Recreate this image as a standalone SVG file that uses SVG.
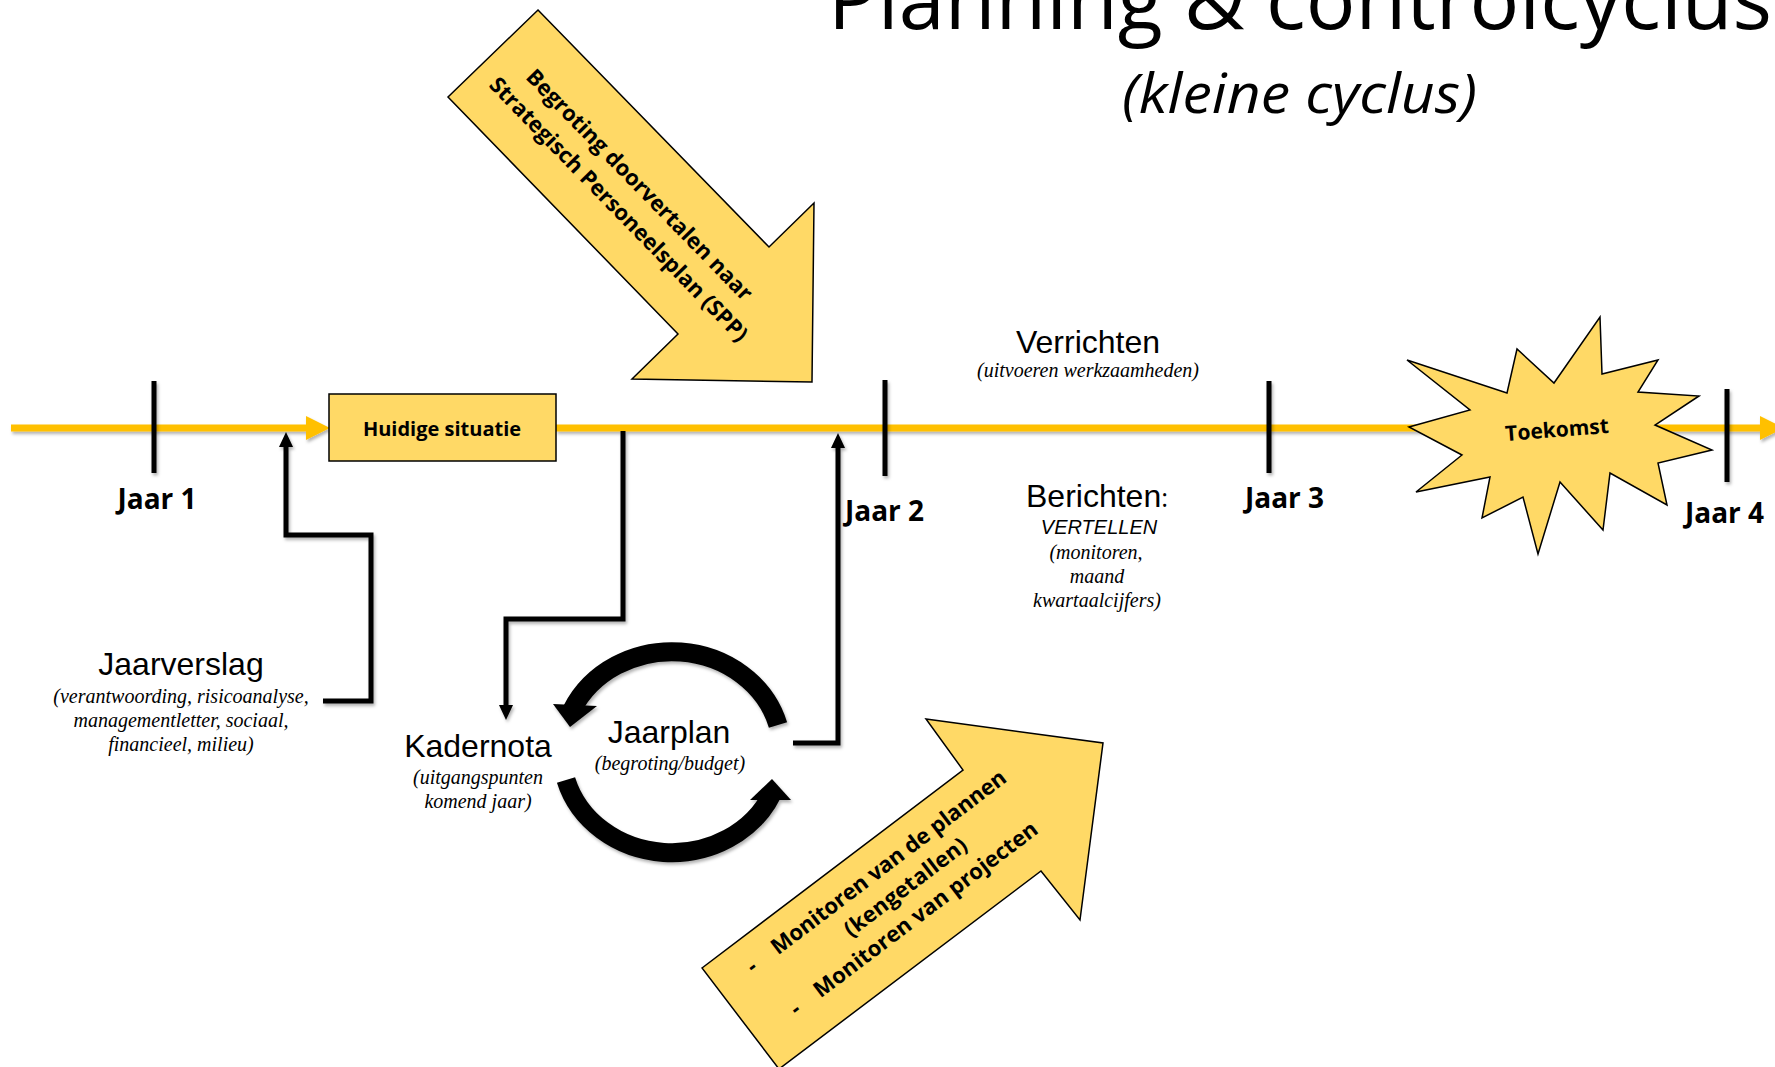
<svg xmlns="http://www.w3.org/2000/svg" width="1775" height="1067" viewBox="0 0 1775 1067">
<style>
.tl{fill:none;stroke:#FFC000;stroke-width:7}
.tick{stroke:#000;stroke-width:5;fill:none}
.con{fill:none;stroke:#000;stroke-width:5}
.cyc{fill:none;stroke:#000;stroke-width:19}
.shape{fill:#FFD966;stroke:#000;stroke-width:1.5;stroke-linejoin:miter}
.bold{font-family:"Open Sans","Liberation Sans",sans-serif;font-weight:bold;fill:#000}
.yr{font-family:"Open Sans","Liberation Sans",sans-serif;font-weight:bold;font-size:28px;fill:#000}
.big{font-family:"Liberation Sans",Arial,sans-serif;font-size:32px;fill:#000;text-anchor:middle}
.sub{font-family:"Liberation Serif","Times New Roman",serif;font-style:italic;font-size:20px;fill:#000;text-anchor:middle}
.ttl{font-family:"Open Sans","Liberation Sans",sans-serif;fill:#000}
</style>
<defs>
<marker id="ah" markerUnits="userSpaceOnUse" markerWidth="16" markerHeight="16" refX="0" refY="7" orient="auto" overflow="visible">
<path d="M0,0 L15,7 L0,14 Z" fill="#000"/>
</marker>
<marker id="yh" markerUnits="userSpaceOnUse" markerWidth="26" markerHeight="26" refX="0" refY="12" orient="auto" overflow="visible">
<path d="M0,0 L24,12 L0,24 Z" fill="#FFC000"/>
</marker>
<filter id="sh" filterUnits="userSpaceOnUse" x="0" y="0" width="1775" height="1067">
<feDropShadow dx="1.5" dy="2.5" stdDeviation="1.5" flood-color="#000" flood-opacity="0.3"/>
</filter>
</defs>

<g id="title">
<text class="ttl" x="828" y="29" font-size="83" textLength="944" lengthAdjust="spacingAndGlyphs">Planning &amp; controlcyclus</text>
<text class="ttl" x="1122" y="113" font-size="54" font-style="italic" textLength="355" lengthAdjust="spacingAndGlyphs">(kleine cyclus)</text>
</g>

<g id="timeline" filter="url(#sh)">
<path class="tl" d="M11,428 H306" marker-end="url(#yh)"/>
<path class="tl" d="M556,428 H1760" marker-end="url(#yh)"/>
</g>

<g id="arrow-spp">
<polygon class="shape" points="538,10 769,247 814,203 812,382 632,379 678,334 448,97"/>
<g transform="translate(628,196) rotate(45.7)">
<text class="bold" font-size="22" x="0" y="-8.5" text-anchor="middle" textLength="313">Begroting doorvertalen naar</text>
<text class="bold" font-size="22" x="3" y="23.5" text-anchor="middle" textLength="359">Strategisch Personeelsplan (SPP)</text>
</g>
</g>

<g id="arrow-monitor">
<polygon class="shape" points="702,968 963,770 926,719 1103,743 1080,920 1041,871 779,1069"/>
<g transform="translate(702,968) rotate(-37.2)">
<text class="bold" font-size="22" x="37" y="36">-</text>
<text class="bold" font-size="22" x="68" y="36" textLength="289">Monitoren van de plannen</text>
<text class="bold" font-size="22" x="137" y="66" textLength="148">(kengetallen)</text>
<text class="bold" font-size="22" x="46" y="96">-</text>
<text class="bold" font-size="22" x="76" y="96" textLength="275">Monitoren van projecten</text>
</g>
</g>

<g id="connectors" filter="url(#sh)">
<path class="con" d="M323,701 H371 V535 H286 V447" marker-end="url(#ah)"/>
<path class="con" d="M623,431 V619 H506 V705" marker-end="url(#ah)"/>
<path class="con" d="M793,743 H838 V448" marker-end="url(#ah)"/>
<path class="cyc" d="M778,725 A110,100 0 0 0 572,710"/>
<polygon points="553,704 597,706 570,727" fill="#000"/>
<path class="cyc" d="M566,780 A110,100 0 0 0 772,794"/>
<polygon points="750,800 791,800 772,779" fill="#000"/>
</g>

<g id="ticks" filter="url(#sh)">
<line class="tick" x1="154" y1="381" x2="154" y2="473"/>
<line class="tick" x1="885" y1="380" x2="885" y2="476"/>
<line class="tick" x1="1269" y1="381" x2="1269" y2="473"/>
<line class="tick" x1="1727" y1="389" x2="1727" y2="482"/>
</g>

<g id="huidige-situatie">
<rect class="shape" x="329" y="394" width="227" height="67"/>
<text class="bold" font-size="20" x="442" y="436" text-anchor="middle">Huidige situatie</text>
</g>

<g id="toekomst">
<polygon class="shape" points="1600,317 1602,374 1658,360 1638,392 1699,396 1655,425 1712,450 1658,463 1667,505 1610,473 1603,530 1560,482 1538,554 1523,497 1482,518 1490,477 1416,492 1462,455 1409,427 1470,410 1407,360 1507,393 1517,349 1554,383"/>
<text class="bold" font-size="21" transform="translate(1557,430) rotate(-4.5)" x="0" y="7" text-anchor="middle">Toekomst</text>
</g>

<g id="years">
<text class="yr" x="157" y="509" text-anchor="middle">Jaar 1</text>
<text class="yr" x="845" y="521">Jaar 2</text>
<text class="yr" x="1245" y="508">Jaar 3</text>
<text class="yr" x="1685" y="523">Jaar 4</text>
</g>

<g id="verrichten">
<text class="big" x="1088" y="353">Verrichten</text>
<text class="sub" x="1088" y="377">(uitvoeren werkzaamheden)</text>
</g>

<g id="berichten">
<text class="big" x="1097" y="507">Berichten<tspan font-family="Open Sans, sans-serif" font-size="26">:</tspan></text>
<text x="1099" y="534" font-family="Liberation Sans, Arial, sans-serif" font-style="italic" font-size="20" text-anchor="middle">VERTELLEN</text>
<text class="sub" x="1096" y="559">(monitoren,</text>
<text class="sub" x="1097" y="583">maand</text>
<text class="sub" x="1097" y="607">kwartaalcijfers)</text>
</g>

<g id="jaarverslag">
<text class="big" x="181" y="675">Jaarverslag</text>
<text class="sub" x="181" y="703">(verantwoording, risicoanalyse,</text>
<text class="sub" x="181" y="727">managementletter, sociaal,</text>
<text class="sub" x="181" y="751">financieel, milieu)</text>
</g>

<g id="kadernota">
<text class="big" x="478" y="757">Kadernota</text>
<text class="sub" x="478" y="784">(uitgangspunten</text>
<text class="sub" x="478" y="808">komend jaar)</text>
</g>

<g id="jaarplan">
<text class="big" x="669" y="743">Jaarplan</text>
<text class="sub" x="670" y="770">(begroting/budget)</text>
</g>
</svg>
